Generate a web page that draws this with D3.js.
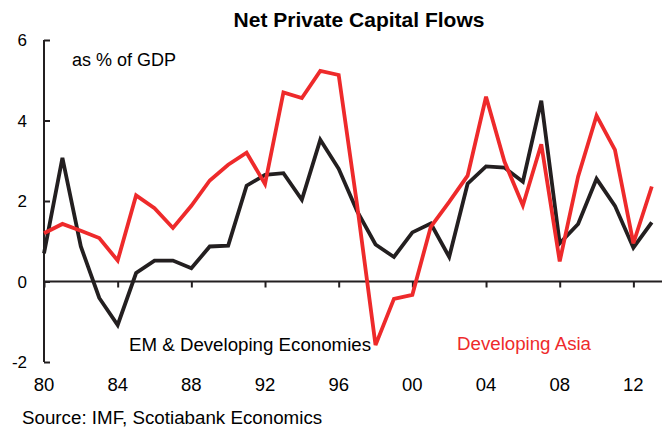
<!DOCTYPE html>
<html>
<head>
<meta charset="utf-8">
<script src="https://cdn.jsdelivr.net/npm/d3@7"></script>
<style>
  html, body { margin: 0; padding: 0; background: #fff; }
  svg { display: block; font-family: "Liberation Sans", Arial, sans-serif; }
</style>
</head>
<body>
<svg id="chart" width="662" height="429"></svg>
<script>
// Net private capital flows, % of GDP, 1980-2013
const years = d3.range(1980, 2014);
const emDeveloping = [0.70, 3.07, 0.87, -0.41, -1.08, 0.21, 0.52, 0.52, 0.33, 0.87,
                      0.89, 2.38, 2.65, 2.69, 2.03, 3.52, 2.80, 1.75, 0.92, 0.61,
                      1.22, 1.44, 0.61, 2.43, 2.86, 2.83, 2.48, 4.49, 0.95, 1.43,
                      2.55, 1.88, 0.84, 1.47];
const developingAsia = [1.20, 1.43, 1.26, 1.08, 0.52, 2.14, 1.82, 1.33, 1.88, 2.51,
                        2.90, 3.20, 2.42, 4.70, 4.56, 5.23, 5.13, 1.90, -1.58, -0.43,
                        -0.33, 1.36, 1.98, 2.63, 4.59, 2.98, 1.89, 3.41, 0.50, 2.61,
                        4.12, 3.27, 0.95, 2.36];
const xTickYears = [1980, 1984, 1988, 1992, 1996, 2000, 2004, 2008, 2012];
const yTicks = [-2, 0, 2, 4, 6];

const BLACK = "#231f20";
const RED = "#ee2a2b";

const svg = d3.select("#chart");

const x = d3.scaleLinear().domain([1980, 2013]).range([44, 651.8]);
const y = d3.scaleLinear().domain([-2, 6]).range([362, 40]);

// Title
svg.append("text")
  .attr("x", 359).attr("y", 27)
  .attr("text-anchor", "middle")
  .attr("font-size", 21).attr("font-weight", "bold")
  .attr("fill", "#000")
  .text("Net Private Capital Flows");

// Y axis (ticks point into the plot)
const yAxis = d3.axisRight(y).tickValues(yTicks).tickSize(6).tickFormat("");
const yG = svg.append("g").attr("transform", `translate(${x(1980)},0)`).call(yAxis);
yG.select(".domain").attr("stroke", BLACK).attr("stroke-width", 2).attr("d", `M0,${y(6)}V${y(-2)}`);
yG.selectAll(".tick line").attr("stroke", BLACK).attr("stroke-width", 2);

svg.append("g").selectAll("text").data(yTicks).join("text")
  .attr("x", 27).attr("y", d => y(d))
  .attr("dy", "0.36em")
  .attr("text-anchor", "end")
  .attr("font-size", 17).attr("fill", "#000")
  .text(d => d);

// X axis along the zero line
const xAxis = d3.axisBottom(x).tickValues(xTickYears).tickSize(6).tickFormat("");
const xG = svg.append("g").attr("transform", `translate(0,${y(0)})`).call(xAxis);
xG.select(".domain").attr("stroke", BLACK).attr("stroke-width", 2).attr("d", `M${x(1980)},0H662`);
xG.selectAll(".tick line").attr("stroke", BLACK).attr("stroke-width", 2);

svg.append("g").selectAll("text").data(xTickYears).join("text")
  .attr("x", d => x(d)).attr("y", 391)
  .attr("text-anchor", "middle")
  .attr("font-size", 18.5).attr("fill", "#000")
  .text(d => String(d % 100).padStart(2, "0"));

// Series lines
const line = d3.line()
  .x((d, i) => x(years[i]))
  .y(d => y(d));

svg.append("path").datum(emDeveloping)
  .attr("d", line)
  .attr("fill", "none").attr("stroke", BLACK)
  .attr("stroke-width", 3.8).attr("stroke-linejoin", "miter").attr("stroke-miterlimit", 3);

svg.append("path").datum(developingAsia)
  .attr("d", line)
  .attr("fill", "none").attr("stroke", RED)
  .attr("stroke-width", 3.8).attr("stroke-linejoin", "miter").attr("stroke-miterlimit", 3);

// Annotations
svg.append("text").attr("x", 72).attr("y", 66)
  .attr("font-size", 18).attr("fill", "#000").text("as % of GDP");

svg.append("text").attr("x", 129).attr("y", 351)
  .attr("font-size", 18.7).attr("fill", "#000").text("EM & Developing Economies");

svg.append("text").attr("x", 457).attr("y", 350)
  .attr("font-size", 18.7).attr("fill", RED).text("Developing Asia");

svg.append("text").attr("x", 22).attr("y", 424)
  .attr("font-size", 18.75).attr("fill", "#000").text("Source: IMF, Scotiabank Economics");
</script>
</body>
</html>
